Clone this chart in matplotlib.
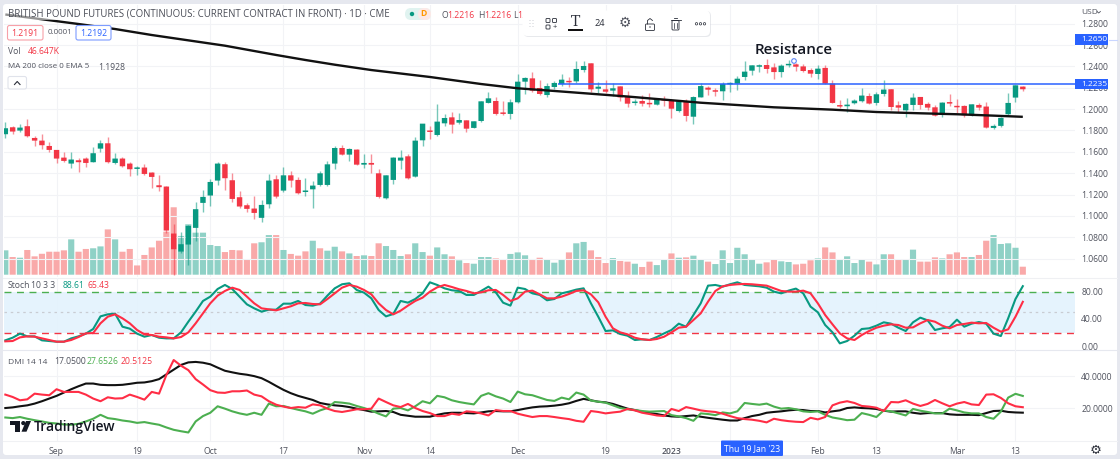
import matplotlib
matplotlib.use("Agg")
import matplotlib.pyplot as plt
import numpy as np
from matplotlib.patches import Rectangle, FancyBboxPatch, Circle, Polygon
from matplotlib.lines import Line2D

# ---------- data ----------
opens = [1.1765,1.1830,1.1799,1.1840,1.1730,1.1705,1.1655,1.1618,1.1546,1.1490,
1.1521,1.1537,1.1503,1.1630,1.1680,1.1496,1.1537,1.1490,1.1440,1.1453,
1.1406,1.1287,1.1275,1.0835,1.0666,1.0732,1.0888,1.1122,1.1191,1.1331,
1.1484,1.1334,1.1175,1.1100,1.1069,1.0982,1.1109,1.1343,1.1237,1.1380,
1.1337,1.1224,1.1249,1.1290,1.1290,1.1490,1.1636,1.1574,1.1621,1.1480,
1.1496,1.1399,1.1165,1.1337,1.1518,1.1558,1.1368,1.1708,1.1799,1.1758,
1.1867,1.1923,1.1873,1.1895,1.1824,1.1889,1.2058,1.2076,1.1964,1.1955,
1.2064,1.2257,1.2288,1.2198,1.2132,1.2207,1.2235,1.2260,1.2260,1.2366,
1.2429,1.2191,1.2185,1.2173,1.2213,1.2113,1.2057,1.2076,1.2057,1.2042,
1.2085,1.2076,1.1982,1.2076,1.1929,1.2110,1.2201,1.2173,1.2167,1.2232,
1.2238,1.2301,1.2360,1.2397,1.2413,1.2391,1.2347,1.2410,1.2419,1.2400,
1.2366,1.2329,1.2386,1.2239,1.2030,1.2027,1.2055,1.2074,1.2123,1.2058,
1.2142,1.2186,1.2036,1.1989,1.2039,1.2114,1.2049,1.2017,1.1946,1.2061,
1.2024,1.2030,1.1946,1.2039,1.2024,1.1824,1.1843,1.1952,1.2108,1.2211]
closes = [1.1821,1.1790,1.1827,1.1746,1.1705,1.1662,1.1618,1.1537,1.1515,1.1528,
1.1503,1.1496,1.1587,1.1680,1.1503,1.1537,1.1465,1.1437,1.1450,1.1393,
1.1365,1.1269,1.0863,1.0688,1.0735,1.0907,1.1063,1.1178,1.1318,1.1490,
1.1353,1.1159,1.1088,1.1066,1.1028,1.1103,1.1331,1.1181,1.1380,1.1331,
1.1212,1.1234,1.1284,1.1399,1.1483,1.1636,1.1574,1.1627,1.1480,1.1496,
1.1480,1.1178,1.1380,1.1546,1.1546,1.1352,1.1705,1.1864,1.1786,1.1883,
1.1917,1.1855,1.1898,1.1817,1.1886,1.2073,1.2101,1.1955,1.1955,1.2064,
1.2257,1.2292,1.2173,1.2142,1.2216,1.2245,1.2276,1.2251,1.2376,1.2404,
1.2185,1.2210,1.2163,1.2195,1.2110,1.2051,1.2070,1.2051,1.2045,1.2098,
1.2079,1.2004,1.2073,1.1936,1.2113,1.2216,1.2182,1.2163,1.2235,1.2245,
1.2285,1.2351,1.2410,1.2410,1.2376,1.2347,1.2407,1.2422,1.2397,1.2357,
1.2332,1.2379,1.2239,1.2058,1.2024,1.2042,1.2080,1.2127,1.2052,1.2139,
1.2183,1.2020,1.2014,1.2049,1.2108,1.2039,1.2014,1.1939,1.2061,1.2052,
1.2017,1.1942,1.2045,1.2014,1.1827,1.1843,1.1918,1.2058,1.2223,1.2186]
highs = [1.1883,1.1843,1.1861,1.1905,1.1749,1.1768,1.1690,1.1618,1.1596,1.1602,
1.1540,1.1556,1.1649,1.1712,1.1743,1.1587,1.1549,1.1506,1.1471,1.1484,
1.1412,1.1387,1.1281,1.0925,1.0854,1.0916,1.1131,1.1240,1.1343,1.1503,
1.1509,1.1400,1.1234,1.1125,1.1191,1.1150,1.1393,1.1381,1.1455,1.1421,
1.1368,1.1352,1.1324,1.1421,1.1515,1.1655,1.1664,1.1636,1.1624,1.1580,
1.1580,1.1437,1.1387,1.1552,1.1618,1.1577,1.1739,1.1864,1.1842,1.2045,
1.1951,1.1973,1.1961,1.1895,1.1892,1.2079,1.2157,1.2117,1.2073,1.2092,
1.2326,1.2304,1.2348,1.2273,1.2248,1.2266,1.2329,1.2298,1.2447,1.2447,
1.2429,1.2251,1.2273,1.2248,1.2213,1.2170,1.2092,1.2132,1.2148,1.2104,
1.2123,1.2098,1.2085,1.2092,1.2123,1.2241,1.2213,1.2198,1.2257,1.2257,
1.2313,1.2450,1.2416,1.2425,1.2466,1.2429,1.2422,1.2460,1.2429,1.2422,
1.2385,1.2410,1.2414,1.2273,1.2086,1.2102,1.2098,1.2198,1.2148,1.2158,
1.2273,1.2186,1.2080,1.2055,1.2148,1.2117,1.2070,1.2042,1.2067,1.2142,
1.2092,1.2036,1.2052,1.2055,1.2067,1.1861,1.1930,1.2148,1.2226,1.2220]
lows = [1.1727,1.1765,1.1786,1.1743,1.1655,1.1630,1.1602,1.1499,1.1503,1.1446,
1.1409,1.1462,1.1503,1.1602,1.1500,1.1484,1.1456,1.1378,1.1384,1.1387,
1.1259,1.1237,1.0844,1.0448,1.0651,1.0542,1.0769,1.1035,1.1097,1.1290,
1.1244,1.1134,1.1072,1.1041,1.0969,1.0941,1.1072,1.1172,1.1224,1.1274,
1.1203,1.1187,1.1078,1.1281,1.1284,1.1443,1.1568,1.1515,1.1474,1.1452,
1.1399,1.1171,1.1159,1.1299,1.1440,1.1346,1.1362,1.1658,1.1721,1.1752,
1.1842,1.1774,1.1864,1.1789,1.1824,1.1883,1.2058,1.1948,1.1948,1.1908,
1.2061,1.2145,1.2164,1.2136,1.2117,1.2185,1.2216,1.2210,1.2248,1.2344,
1.2157,1.2154,1.2148,1.2126,1.2079,1.2020,1.2039,1.2029,1.2023,1.2035,
1.2029,1.1920,1.1976,1.1889,1.1861,1.2110,1.2129,1.2123,1.2085,1.2163,
1.2179,1.2273,1.2323,1.2351,1.2341,1.2279,1.2304,1.2397,1.2354,1.2351,
1.2298,1.2286,1.2236,1.2055,1.2014,1.1977,1.2049,1.2067,1.2049,1.2039,
1.2123,1.1992,1.1974,1.1924,1.1992,1.1999,1.1992,1.1933,1.1930,1.2030,
1.1961,1.1924,1.1939,1.1992,1.1821,1.1811,1.1836,1.1939,1.2070,1.2173]
volume_k = [142,103,99,144,107,122,134,134,142,206,
134,150,154,165,264,206,134,150,54,115,
159,198,251,393,226,294,245,245,173,167,
132,144,142,91,183,189,231,231,144,121,
111,136,198,154,140,163,136,124,109,113,
109,183,167,144,109,119,183,132,111,159,
119,107,84,68,64,103,103,95,89,121,
130,113,87,99,86,70,89,130,183,191,
142,103,68,97,80,76,64,45,76,56,
86,124,99,101,111,91,76,62,142,68,
157,119,86,64,72,89,78,74,60,64,
84,95,159,130,91,107,68,87,76,60,
119,119,87,91,146,76,76,101,95,119,
130,103,103,115,198,231,179,183,157,46.6]
volume_up = ("g r g r r r r r r g  r r g g r g r r r r  r r r r g g g g g g  r r r r r g g r g r "
             "r r g r g g r g r g  r r g g g r g g r g  g r g r g g g r r g  g g r r g g g r g g "
             "r r r g r r g r r g  g r g r g g r g g g  g g g g r r g g r r  r g r r g g g g r g "
             "g r r g g r r r g r  r r g r r g g g g r").split()

ma_index = [0,10,15,20,30,37,41,45,50,58,65,70,75,85,95,105,113,119,125,130,135,139]
ma_value = [1.2886,1.2797,1.2750,1.2694,1.2594,1.2507,1.2460,1.2416,1.2366,1.2301,1.2235,
            1.2195,1.2170,1.2118,1.2060,1.2017,1.1995,1.1973,1.1961,1.1952,1.1939,1.1928]

stoch_k = [8.4,12.3,18.3,14.3,14.3,8.4,7.4,6.4,6.4,11.3,
14.3,18.3,25.2,43.9,46.9,47.9,28.6,25.7,18.3,13.8,
16.3,12.3,11.3,11.3,20.2,36.0,50.9,66.7,73.1,84.4,
90.4,84.4,73.1,61.7,55.8,50.9,53.8,53.8,62.7,62.7,
66.7,60.7,59.8,62.7,74.6,85.4,91.4,92.9,83.0,79.0,
70.6,53.3,43.9,47.4,66.7,64.2,69.6,78.0,94.3,90.4,
85.4,82.5,81.5,75.6,75.6,81.5,87.9,79.5,64.2,59.8,
86.4,84.4,78.0,75.6,67.7,69.6,78.0,80.5,83.5,85.4,
63.2,43.4,22.2,23.2,17.8,15.3,8.9,9.9,8.9,13.3,
18.7,23.7,33.1,28.6,45.9,63.2,89.4,90.4,87.9,91.4,
94.3,90.4,89.4,88.4,86.4,80.5,78.0,82.0,85.0,78.0,
58.3,49.9,31.1,20.2,3.9,7.4,15.3,25.2,26.2,30.1,
35.1,33.1,27.1,22.2,35.1,42.0,38.0,23.7,26.2,28.1,
39.0,28.6,33.1,35.5,33.1,18.3,14.8,41.0,69.6,88.61]
stoch_d = [6.9,7.4,12.8,14.3,13.8,11.3,8.9,6.4,6.4,8.9,
13.3,18.7,19.2,33.6,43.4,46.9,41.0,33.6,23.7,17.3,
16.3,13.8,12.8,11.3,13.3,20.2,33.6,48.4,63.2,74.6,
81.5,86.4,83.0,73.1,63.2,55.8,54.3,52.8,55.8,58.8,
63.2,63.7,62.2,61.7,69.6,78.0,86.4,90.4,87.9,83.0,
76.5,63.2,53.3,46.9,52.3,59.8,66.7,71.6,80.5,86.9,
90.4,87.4,84.0,81.5,78.0,79.5,82.5,83.0,75.6,66.7,
70.6,80.5,82.0,76.5,70.6,70.6,73.1,77.0,81.5,82.5,
76.5,64.7,43.4,26.2,20.2,17.3,12.3,9.9,8.9,10.4,
13.8,20.2,27.1,28.6,38.5,48.4,65.7,81.5,88.4,90.4,
91.4,91.9,91.4,90.4,89.4,85.4,81.5,80.5,80.5,82.0,
78.0,63.2,45.9,32.1,18.7,11.3,8.9,16.3,22.2,27.1,
30.1,32.1,31.1,27.1,27.6,33.6,38.5,36.0,30.1,26.2,
31.1,32.6,34.6,33.6,34.1,27.1,21.2,24.7,43.4,65.43]

adx = [20.0,20.4,21.1,21.7,22.8,24.3,26.0,27.7,29.8,31.9,
33.8,35.5,35.5,34.7,34.5,34.5,34.7,35.3,36.0,36.2,
37.0,38.3,41.3,44.3,47.3,48.9,49.2,48.7,47.7,45.6,
43.6,42.6,41.7,41.1,40.2,38.9,36.6,34.0,31.5,29.4,
27.7,26.4,25.1,23.2,22.3,21.7,21.3,20.6,19.6,18.7,
17.7,17.9,18.1,17.5,15.7,15.1,14.5,14.5,14.5,15.7,
16.6,17.0,17.0,16.8,16.6,17.2,17.9,18.1,17.9,17.9,
18.7,19.6,20.4,20.9,21.1,21.5,22.1,23.0,24.5,25.8,
24.9,24.0,23.6,22.6,21.1,19.6,18.7,17.7,16.8,16.2,
15.3,14.7,14.5,14.9,15.3,14.5,13.8,13.2,12.6,12.1,
12.1,13.6,14.9,15.7,17.0,17.5,17.9,18.5,18.9,18.7,
18.1,18.1,17.2,17.9,18.5,20.0,20.4,20.0,19.8,19.4,
18.3,17.7,17.9,17.9,17.0,16.4,16.8,16.8,16.8,16.0,
15.7,15.7,15.7,15.5,16.8,18.1,18.3,17.5,17.2,17.05]
plus_di = [14.0,13.6,14.3,13.2,12.3,11.5,10.6,10.2,9.6,9.4,
10.0,11.5,13.2,15.7,13.6,13.0,12.1,11.5,10.6,11.1,
10.2,9.4,7.7,6.2,5.3,4.5,11.5,14.9,17.0,21.1,
19.6,17.9,16.6,15.7,17.0,15.7,22.8,21.1,21.3,20.0,
18.9,17.9,16.4,18.5,20.0,23.8,23.4,22.8,21.3,20.0,
18.5,16.4,14.7,19.6,20.0,18.5,21.1,24.3,23.0,27.7,
26.8,24.9,23.8,23.0,22.3,27.7,29.4,27.4,26.0,23.8,
30.4,28.7,28.1,26.6,25.1,24.5,26.6,25.5,29.8,28.5,
24.7,24.0,23.4,21.7,20.0,19.2,18.7,18.1,17.7,17.9,
18.1,15.5,14.7,13.6,11.9,16.6,16.2,15.5,17.2,16.6,
17.9,23.2,22.6,22.1,22.8,20.9,19.6,20.0,19.2,17.9,
17.5,17.9,15.7,14.0,13.2,12.3,12.6,16.8,15.7,14.3,
18.5,17.9,16.6,15.3,19.4,18.3,17.5,16.6,16.6,19.6,
18.5,17.2,16.6,16.6,14.3,13.2,17.7,26.6,29.0,27.65]
minus_di = [28.5,27.0,24.9,25.5,29.1,28.5,28.1,31.9,30.2,30.2,
30.2,28.5,26.0,24.3,26.8,26.0,26.2,28.5,27.0,25.3,
30.2,29.1,40.9,50.4,46.8,44.0,38.3,34.9,31.3,29.8,
29.6,30.6,30.6,31.1,28.5,27.4,24.3,22.1,20.9,20.0,
20.6,20.2,22.3,21.7,19.6,18.1,17.5,18.3,19.2,19.2,
19.6,26.0,23.8,21.7,20.6,22.6,20.0,18.1,16.8,14.9,
14.9,16.4,15.7,17.9,17.5,16.6,15.3,18.7,18.1,18.1,
16.4,15.3,14.3,14.9,14.9,14.3,13.6,13.0,11.9,11.3,
18.1,17.5,16.6,17.2,17.7,19.4,18.5,17.0,16.2,15.3,
14.9,19.4,18.1,20.6,19.6,18.5,17.9,17.5,16.4,14.9,
13.6,13.0,12.6,11.9,10.9,13.2,12.3,11.7,11.3,11.1,
13.8,12.8,14.3,21.7,23.4,24.3,23.2,21.3,20.9,20.2,
18.1,23.8,23.6,24.9,22.8,21.3,22.6,25.1,23.0,21.1,
22.8,23.8,22.3,21.9,28.5,28.7,26.4,23.0,21.1,20.51]

price_ticks = [1.06,1.08,1.10,1.12,1.14,1.16,1.18,1.20,1.22,1.24,1.26,1.28]
stoch_ticks = [0,40,80]
dmi_ticks = [20,40]
time_index = [7,18,28,38,49,58,70,82,91,111,119,130,138]
time_labels = ["Sep","19","Oct","17","Nov","14","Dec","19","2023","Feb","13","Mar","13"]
grid_index = [7,18,28,38,49,58,70,82,91,99,111,119,130,138]
resistance = 1.2235
alert_level = 1.2650

# ---------- layout ----------
W, H = 1120, 459
plt.rcParams['font.family'] = ['Open Sans', 'DejaVu Sans']
fig = plt.figure(figsize=(W/100, H/100), dpi=100, facecolor='#e6e8ef')

def pane(top, bottom, left=4, right=1075, z=2):
    ax = fig.add_axes([left/W, 1-bottom/H, (right-left)/W, (bottom-top)/H], zorder=z)
    ax.patch.set_visible(False)
    for s in ax.spines.values():
        s.set_visible(False)
    ax.set_xlim((left-5.33)/7.32, (right-5.33)/7.32)
    return ax

UP, DOWN = '#089981', '#f23645'
GRID = '#f2f3f6'
TXT = '#50535e'
BLUE = '#2962ff'
xs = np.arange(len(opens))

bg = fig.add_axes([0, 0, 1, 1], zorder=0)
bg.set_xlim(0, W); bg.set_ylim(H, 0); bg.axis('off')
bg.add_patch(FancyBboxPatch((3, 4), 1114, 451, boxstyle='round,pad=0,rounding_size=3', fc='white', ec='none'))
bg.add_line(Line2D([3, 1117], [277.5, 277.5], color='#eff0f3', lw=0.8))
bg.add_line(Line2D([3, 1117], [350, 350], color='#e6e8ef', lw=0.8))
bg.add_line(Line2D([3, 1117], [440.5, 440.5], color='#f0f1f4', lw=0.8))

# volume
ax_vol = pane(5, 277, z=1)
ax_vol.set_ylim(-13.4, 1572)
vol_bars = ax_vol.bar(xs, volume_k, width=0.84,
                      color=['#8fd1c6' if d == 'g' else '#f9a9a9' for d in volume_up], linewidth=0)
for b in vol_bars:
    b.set_snap(False)
ax_vol.set_yticks([]); ax_vol.set_xticks(grid_index)
ax_vol.tick_params(length=0, labelbottom=False)
ax_vol.grid(axis='x', color=GRID, lw=0.8)
ax_vol.set_axisbelow(True)

# price
ax = pane(5, 277, z=2)
ax.set_ylim(1.0428, 1.2975)
for i in xs:
    c = UP if closes[i] >= opens[i] else DOWN
    ax.vlines(i, lows[i], highs[i], color=c, lw=1.0, alpha=0.55, zorder=3)
    lo, hi = sorted((opens[i], closes[i]))
    body = ax.bar(i, max(hi-lo, 0.0014), bottom=lo, width=0.74, color=c, linewidth=0, zorder=4)
    body[0].set_snap(False)
ax.plot(ma_index, ma_value, color='#111111', lw=1.7, zorder=5, solid_capstyle='butt')
ax.hlines(resistance, 75.5, ax.get_xlim()[1], color=BLUE, lw=1.1, zorder=6)
ax.set_xticks([])
ax.yaxis.tick_right()
ax.set_yticks(price_ticks, [f"{v:.4f}" for v in price_ticks])
ax.tick_params(axis='y', length=0, pad=4.5, labelsize=6.2, labelcolor=TXT)
ax.grid(axis='y', color=GRID, lw=0.8)
ax.set_axisbelow(True)
tr = ax.get_yaxis_transform()
for lv, lab in [(alert_level, "1.2650"), (resistance, "1.2235")]:
    ax.add_patch(FancyBboxPatch((1.0, lv-0.0049), 33.5/1071, 0.0098, transform=tr, clip_on=False,
                                boxstyle='square,pad=0', fc=BLUE, ec='none', zorder=8))
    ax.text(1.0+6.5/1071, lv, lab, transform=tr, ha='left', va='center', color='white',
            fontsize=6.0, fontweight='medium', clip_on=False, zorder=9)

# stochastic
ax_s = pane(278, 350, z=2)
ax_s.set_ylim(-5.9, 100.7)
ax_s.axhspan(20, 80, color='#e3f2fd', alpha=0.9, lw=0, zorder=1)
ax_s.axhline(80, color='#4caf50', lw=1.0, ls=(0, (5, 4)), zorder=2)
ax_s.axhline(50, color='#c9ccd3', lw=0.9, ls=(0, (2, 3)), zorder=2)
ax_s.axhline(20, color=DOWN, lw=1.0, ls=(0, (5, 4)), zorder=2)
ax_s.plot(xs, stoch_k, color=UP, lw=1.5, zorder=4)
ax_s.plot(xs, stoch_d, color='#ff2d45', lw=1.5, zorder=5)
ax_s.set_xticks(grid_index); ax_s.tick_params(axis='x', length=0, labelbottom=False)
ax_s.grid(axis='x', color=GRID, lw=0.8)
ax_s.yaxis.tick_right()
ax_s.set_yticks(stoch_ticks, [f"{v:.2f}" for v in stoch_ticks])
ax_s.tick_params(axis='y', length=0, pad=4.5, labelsize=6.2, labelcolor=TXT)
ax_s.set_axisbelow(True)

# DMI
ax_d = pane(350, 440.5, z=2)
ax_d.set_ylim(-0.57, 56.75)
ax_d.plot(xs, adx, color='#111111', lw=1.5, zorder=4)
ax_d.plot(xs, plus_di, color='#4caf50', lw=1.5, zorder=5)
ax_d.plot(xs, minus_di, color='#ff2d45', lw=1.5, zorder=6)
ax_d.yaxis.tick_right()
ax_d.set_yticks(dmi_ticks, [f"{v:.4f}" for v in dmi_ticks])
ax_d.tick_params(axis='y', length=0, pad=4.5, labelsize=6.2, labelcolor=TXT)
ax_d.grid(axis='y', color=GRID, lw=0.8)
ax_d.set_axisbelow(True)
ax_d.set_xticks(time_index, time_labels)
ax_d.tick_params(axis='x', length=0, pad=4.5, labelsize=6.2, labelcolor=TXT)
for t in ax_d.get_xticklabels():
    if t.get_text() == "2023":
        t.set_fontweight('semibold')
for g in grid_index:
    ax_d.axvline(g, color=GRID, lw=0.8, zorder=0)

# ---------- chrome ----------
ui = fig.add_axes([0, 0, 1, 1], zorder=10)
ui.set_xlim(0, W); ui.set_ylim(H, 0); ui.axis('off')

def T(x, y, s, c=TXT, fs=6.2, **k):
    k.setdefault('ha', 'left'); k.setdefault('va', 'center')
    ui.text(x, y, s, color=c, fontsize=fs, **k)

def pill(x0, y0, x1, y1, fc='white', ec='none', lw=0.8, r=2, a=1, z=2):
    ui.add_patch(FancyBboxPatch((x0, y0), x1-x0, y1-y0, boxstyle=f'round,pad=0,rounding_size={r}',
                                fc=fc, ec=ec, lw=lw, alpha=a, zorder=z))

ui.add_patch(Rectangle((4, 6), 108, 14, fc='white', alpha=0.55, ec='none', zorder=1))
T(8, 14.5, "BRITISH POUND FUTURES (CONTINUOUS: CURRENT CONTRACT IN FRONT) · 1D · CME", '#4a4d57', 6.9)
pill(405, 8, 431, 20, fc='#e0f3f0', r=6)
pill(418, 8, 431, 20, fc='#fde9e7', r=6)
ui.add_patch(Circle((412, 14), 2.2, fc=UP, ec='none', zorder=3))
T(423.5, 14, "D", '#ff9800', 6.2, ha='center', fontweight='bold', zorder=3)
T(441, 15.5, "O", TXT, 6.2); T(447, 15.5, "1.2216", DOWN, 6.2)
T(478, 15.5, "H", TXT, 6.2); T(484, 15.5, "1.2216", DOWN, 6.2)
T(513, 15.5, "L", TXT, 6.2); T(517, 15.5, "1.", DOWN, 6.2)

pill(7.5, 25.5, 43, 40, ec='#f7a0a8', lw=0.8)
T(25, 33, "1.2191", DOWN, 6.2, ha='center', zorder=3)
T(48, 33, "0.0001", TXT, 5.7)
pill(76, 25.5, 111, 40, ec='#7d9cff', lw=0.8)
T(93.5, 33, "1.2192", BLUE, 6.2, ha='center', zorder=3)
T(8, 51, "Vol", TXT, 6.2); T(28, 51, "46.647K", DOWN, 6.2)
T(8, 67, "MA 200 close 0 EMA 5", TXT, 5.8); T(98, 67, "1.1928", TXT, 6.2)
pill(8, 76.5, 26.5, 89, ec='#e0e3eb')
ui.add_line(Line2D([14.5, 17.2, 20], [84.5, 81.5, 84.5], color='#2a2e39', lw=0.8))

T(8, 286, "Stoch", TXT, 6.2); T(31, 286, "10 3 3", TXT, 6.2)
T(63, 286, "88.61", UP, 6.2); T(88, 286, "65.43", DOWN, 6.2)
T(8, 362, "DMI 14 14", TXT, 6.0); T(54, 362, "17.0500", TXT, 6.2)
T(87, 362, "27.6526", '#4caf50', 6.2); T(121, 362, "20.5125", DOWN, 6.2)

# TradingView logo
ink = '#131722'
ui.add_patch(Polygon([(9.5, 421), (20, 421), (20, 431.7), (15, 431.7), (15, 425.2), (9.5, 425.2)], fc=ink, ec='none'))
ui.add_patch(Circle((23.3, 423.1), 2.1, fc=ink, ec='none'))
ui.add_patch(Polygon([(26, 421), (31, 421), (26.5, 431.7), (21.5, 431.7)], fc=ink, ec='none'))
T(34, 426.5, "TradingView", ink, 10, fontweight='semibold')

# time cursor
pill(721, 440.5, 783, 456, fc=BLUE, r=1)
T(752, 448.5, "Thu 19 Jan '23", 'white', 6.2, ha='center', zorder=3, fontweight='medium')

# currency and settings
T(1081.5, 12, "USD", TXT, 6.0)
ui.add_line(Line2D([1097, 1098.7, 1100.4], [11.5, 13, 11.5], color=TXT, lw=0.6))
ui.add_line(Line2D([1108.5, 1117], [39.5, 39.5], color='#c9d6ff', lw=0.8))
T(1096, 450, "\u2699", '#2a2e39', 9.5, ha='center', family='DejaVu Sans')

# annotation
T(793.5, 50, "Resistance", '#131722', 11, ha='center', fontweight='semibold')
ui.add_patch(Circle((794, 61), 2.3, fc='white', ec='#5c85f5', lw=0.8, zorder=6))

# drawing toolbar
pill(523.5, 11, 711, 37, fc='#d5d7de', r=5, a=0.55, z=5)
pill(522.5, 10.5, 710, 36, fc='white', r=5, z=6)
for dx in (0, 3):
    for dy in (0, 3, 6):
        ui.add_patch(Circle((530+dx, 20.5+dy), 0.45, fc='#b2b5be', ec='none', zorder=7))
ic = '#2a2e39'
for (bx, by) in [(546, 18.5), (552.5, 18.5), (546, 25)]:
    ui.add_patch(FancyBboxPatch((bx, by), 4, 4, boxstyle='round,pad=0,rounding_size=0.8', fc='white', ec=ic, lw=0.6, zorder=7))
T(554.5, 27, "+", ic, 5.5, ha='center', zorder=7)
T(575.5, 21.5, "T", ic, 10, ha='center', zorder=7, family='DejaVu Serif')
ui.add_patch(Rectangle((568, 29), 15, 2, fc='#111111', ec='none', zorder=7))
T(600, 23.5, "24", ic, 6.6, ha='center', zorder=7)
T(625, 23, "\u2699", '#50535e', 10, ha='center', zorder=7, family='DejaVu Sans')
ui.add_patch(FancyBboxPatch((645.5, 24), 9, 6.5, boxstyle='round,pad=0,rounding_size=1', fc='white', ec=ic, lw=0.6, zorder=7))
ui.add_line(Line2D([647.5, 647.5, 650, 652.5], [24, 20.5, 18.5, 20.5], color=ic, lw=0.6, zorder=7))
ui.add_patch(Circle((650, 27), 0.7, fc=ic, ec='none', zorder=7))
ui.add_patch(FancyBboxPatch((672, 20.5), 7, 9.5, boxstyle='round,pad=0,rounding_size=1', fc='white', ec=ic, lw=0.6, zorder=7))
ui.add_line(Line2D([670.5, 680.5], [20, 20], color=ic, lw=0.6, zorder=7))
ui.add_line(Line2D([674, 677], [18.3, 18.3], color=ic, lw=0.6, zorder=7))
for lx in (674.3, 676.7):
    ui.add_line(Line2D([lx, lx], [22.5, 28], color=ic, lw=0.5, zorder=7))
for dx in (696.5, 700.5, 704.5):
    ui.add_patch(Circle((dx, 23.8), 1.2, fc='white', ec=ic, lw=0.5, zorder=7))

fig.savefig("out.png", dpi=100, facecolor=fig.get_facecolor())
